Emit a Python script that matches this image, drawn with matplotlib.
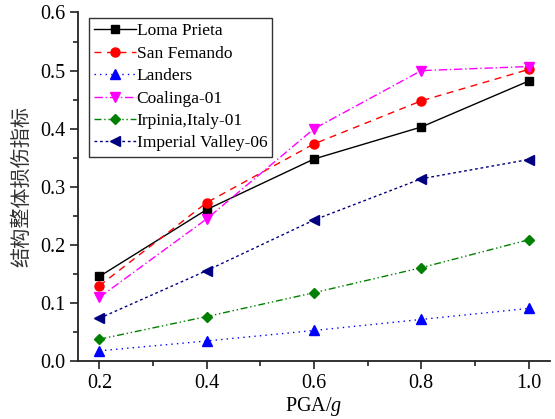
import matplotlib
matplotlib.use("Agg")
import matplotlib.pyplot as plt
from matplotlib.ticker import MultipleLocator

pga = [0.2, 0.4, 0.6, 0.8, 1.0]
loma_prieta = [0.146, 0.261, 0.348, 0.403, 0.482]
san_femando = [0.130, 0.273, 0.374, 0.448, 0.502]
landers = [0.018, 0.035, 0.053, 0.072, 0.091]
coalinga = [0.110, 0.245, 0.400, 0.500, 0.507]
irpinia = [0.038, 0.077, 0.118, 0.161, 0.209]
imperial = [0.074, 0.156, 0.243, 0.314, 0.347]

names = ["Loma Prieta", "San Femando", "Landers", "Coalinga-01",
         "Irpinia,Italy-01", "Imperial Valley-06"]
series = [loma_prieta, san_femando, landers, coalinga, irpinia, imperial]
styles = [
    dict(color="black", ls="-", marker="s", ms=5.5),
    dict(color="red", ls=(0, (5, 4)), marker="o", ms=6.5),
    dict(color="blue", ls=(0, (1, 3)), marker="^", ms=7),
    dict(color="magenta", ls=(0, (6, 2, 1, 2)), marker="v", ms=7),
    dict(color="#008000", ls=(0, (5, 2, 1, 2, 1, 2)), marker="D", ms=5.5),
    dict(color="#000080", ls=(0, (2, 2)), marker="<", ms=7),
]

plt.rcParams["font.family"] = ["Liberation Serif", "DejaVu Serif"]
plt.rcParams["mathtext.fontset"] = "custom"
plt.rcParams["mathtext.rm"] = "Liberation Serif"
plt.rcParams["mathtext.it"] = "Liberation Serif:italic"

fig = plt.figure(figsize=(5.55, 4.19), dpi=100)
ax = fig.add_axes([0.1405, 0.1377, 0.8505, 0.8325])

for name, vals, st in zip(names, series, styles):
    ax.plot(pga, vals, color=st["color"], ls=st["ls"], lw=1.0,
            marker=st["marker"], ms=st["ms"], mec=st["color"],
            mfc=st["color"], label=name)

ax.set_xlim(0.16, 1.04)
ax.set_ylim(0.0, 0.6)
ax.xaxis.set_major_locator(MultipleLocator(0.2))
ax.xaxis.set_minor_locator(MultipleLocator(0.1))
ax.yaxis.set_major_locator(MultipleLocator(0.1))
ax.yaxis.set_minor_locator(MultipleLocator(0.05))
ax.xaxis.set_major_formatter(lambda v, _: f"{v:.1f}")
ax.yaxis.set_major_formatter(lambda v, _: f"{v:.1f}")

for side in ("top", "right"):
    ax.spines[side].set_visible(False)
for side in ("left", "bottom"):
    ax.spines[side].set_linewidth(1.3)
    ax.spines[side].set_color("#222222")
ax.tick_params(which="major", direction="out", length=6, width=1.2,
               labelsize=14.5, colors="#222222", labelcolor="black", pad=3)
ax.tick_params(which="minor", direction="out", length=3.5, width=1.2,
               colors="#222222")

ax.set_xlabel("PGA/$g$", fontsize=14.5, labelpad=1.5)
ax.set_ylabel("结构整体损伤指标", fontsize=14.5, labelpad=6,
              family=["Noto Sans CJK SC", "DejaVu Sans"], color="#333333")

leg = ax.legend(loc="upper left", bbox_to_anchor=(0.023, 0.984),
                borderaxespad=0, fontsize=12.5, frameon=True, fancybox=False,
                edgecolor="black", handlelength=2.4, handletextpad=0.05,
                labelspacing=0.36, borderpad=0.3)
leg.get_frame().set_linewidth(1.0)

fig.savefig("out.png", dpi=100)
